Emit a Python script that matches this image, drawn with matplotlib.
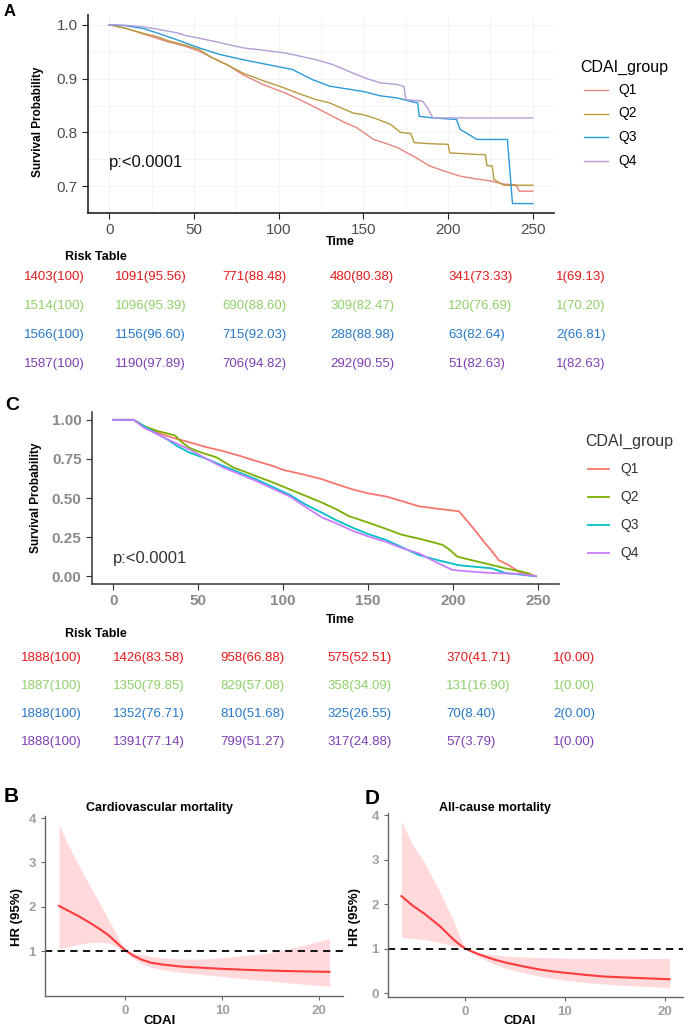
import matplotlib
matplotlib.use("Agg")
import matplotlib.pyplot as plt
from matplotlib.lines import Line2D
from matplotlib import font_manager as fm

names = {f.name for f in fm.fontManager.ttflist}
BASE = "Liberation Sans" if "Liberation Sans" in names else "DejaVu Sans"
NARROW = "Liberation Sans Narrow" if "Liberation Sans Narrow" in names else BASE
plt.rcParams['font.family'] = [BASE, 'DejaVu Sans']

# ---------------- data ----------------
groups = ["Q1", "Q2", "Q3", "Q4"]

# Panel A (Kaplan-Meier, cardiovascular)
A_Q1_t = [0, 10, 20, 28, 35, 45, 53, 60, 70, 79, 90, 104, 113, 122, 130, 138, 146, 156, 163, 170, 180, 189, 198, 207, 216, 225, 233, 240, 242, 250]
A_Q1_s = [1.0, 0.993, 0.983, 0.975, 0.968, 0.96, 0.951, 0.94, 0.925, 0.907, 0.89, 0.873, 0.86, 0.846, 0.833, 0.82, 0.809, 0.787, 0.78, 0.772, 0.755, 0.738, 0.728, 0.719, 0.714, 0.71, 0.704, 0.703, 0.691, 0.691]
A_Q2_t = [0, 10, 20, 28, 35, 45, 53, 60, 70, 79, 90, 103, 112, 122, 130, 144, 150, 158, 166, 172, 178, 180, 190, 200, 201, 218, 222, 223, 226, 227, 230, 233, 250]
A_Q2_s = [1.0, 0.993, 0.984, 0.978, 0.97, 0.962, 0.954, 0.94, 0.925, 0.91, 0.897, 0.883, 0.872, 0.861, 0.855, 0.836, 0.833, 0.825, 0.815, 0.80, 0.798, 0.781, 0.779, 0.778, 0.762, 0.759, 0.759, 0.738, 0.738, 0.713, 0.707, 0.702, 0.702]
A_Q3_t = [0, 10, 20, 28, 40, 53, 65, 79, 95, 108, 120, 130, 142, 150, 160, 170, 180, 182, 183, 191, 205, 207, 217, 235, 238, 250]
A_Q3_s = [1.0, 0.998, 0.993, 0.985, 0.972, 0.957, 0.945, 0.935, 0.925, 0.917, 0.898, 0.886, 0.88, 0.876, 0.868, 0.864, 0.856, 0.855, 0.83, 0.827, 0.824, 0.806, 0.787, 0.787, 0.668, 0.668]
A_Q4_t = [0, 10, 20, 28, 40, 45, 53, 65, 79, 90, 103, 115, 122, 132, 144, 152, 160, 170, 174, 175, 185, 188, 191, 250]
A_Q4_s = [1.0, 0.999, 0.996, 0.992, 0.985, 0.98, 0.975, 0.967, 0.957, 0.953, 0.948, 0.94, 0.935, 0.926, 0.91, 0.9, 0.892, 0.889, 0.885, 0.861, 0.858, 0.845, 0.827, 0.827]

# Panel C (Kaplan-Meier, all-cause)
C_Q1_t = [0, 12, 18, 25.6, 35, 45, 50, 55, 64.7, 75, 84, 94, 100, 113, 123, 131, 141, 150, 160.6, 170, 180, 192, 203.6, 209.5, 214, 219, 223, 227, 233, 239, 243, 246.6, 249]
C_Q1_s = [1.0, 1.0, 0.96, 0.92, 0.885, 0.856, 0.84, 0.825, 0.80, 0.768, 0.737, 0.705, 0.68, 0.648, 0.62, 0.59, 0.555, 0.53, 0.51, 0.48, 0.447, 0.43, 0.415, 0.34, 0.28, 0.21, 0.16, 0.103, 0.07, 0.028, 0.02, 0.006, 0.0]
C_Q2_t = [0, 12, 18, 25.6, 36.4, 40, 45, 52, 60.8, 70.6, 77, 84, 94, 104, 113, 123, 131, 139, 151, 160, 170, 182, 194, 198, 202.6, 210, 219, 231, 240, 244.7, 248]
C_Q2_s = [1.0, 1.0, 0.96, 0.93, 0.9, 0.86, 0.82, 0.79, 0.76, 0.695, 0.67, 0.64, 0.6, 0.555, 0.515, 0.47, 0.43, 0.383, 0.34, 0.305, 0.265, 0.235, 0.2, 0.17, 0.125, 0.105, 0.082, 0.05, 0.03, 0.017, 0.0]
C_Q3_t = [0, 12, 18, 25, 31.5, 38, 45, 55, 64.7, 75, 84, 94, 104, 113, 123, 131, 141, 150, 160.6, 170, 180, 192, 203.6, 213, 223, 231, 240, 248]
C_Q3_s = [1.0, 1.0, 0.96, 0.915, 0.877, 0.83, 0.79, 0.75, 0.705, 0.66, 0.62, 0.57, 0.52, 0.46, 0.405, 0.36, 0.31, 0.27, 0.232, 0.185, 0.135, 0.1, 0.07, 0.06, 0.05, 0.02, 0.01, 0.0]
C_Q4_t = [0, 12, 18, 25.6, 35, 45, 55, 64.7, 75, 84, 94, 104, 113, 123, 131, 141, 150, 160.6, 170, 180, 190, 199.7, 210, 223, 239, 249]
C_Q4_s = [1.0, 1.0, 0.95, 0.91, 0.86, 0.81, 0.75, 0.695, 0.65, 0.61, 0.56, 0.51, 0.445, 0.375, 0.34, 0.29, 0.255, 0.22, 0.18, 0.146, 0.09, 0.04, 0.03, 0.02, 0.015, 0.0]

# Risk tables
risk_A = [
    ["1403(100)", "1091(95.56)", "771(88.48)", "480(80.38)", "341(73.33)", "1(69.13)"],
    ["1514(100)", "1096(95.39)", "690(88.60)", "309(82.47)", "120(76.69)", "1(70.20)"],
    ["1566(100)", "1156(96.60)", "715(92.03)", "288(88.98)", "63(82.64)", "2(66.81)"],
    ["1587(100)", "1190(97.89)", "706(94.82)", "292(90.55)", "51(82.63)", "1(82.63)"],
]
risk_C = [
    ["1888(100)", "1426(83.58)", "958(66.88)", "575(52.51)", "370(41.71)", "1(0.00)"],
    ["1887(100)", "1350(79.85)", "829(57.08)", "358(34.09)", "131(16.90)", "1(0.00)"],
    ["1888(100)", "1352(76.71)", "810(51.68)", "325(26.55)", "70(8.40)", "2(0.00)"],
    ["1888(100)", "1391(77.14)", "799(51.27)", "317(24.88)", "57(3.79)", "1(0.00)"],
]

# Panel B (RCS, cardiovascular mortality)
B_x = [-6.85, -5.8, -4.85, -3.6, -2.46, -1.7, -1.09, -0.5, 0, 0.8, 1.64, 2.6, 3.69, 5.74, 7.8, 9.85, 12, 14.6, 17.5, 21.1]
B_hr = [2.02, 1.9, 1.79, 1.63, 1.47, 1.35, 1.23, 1.11, 1.02, 0.9, 0.81, 0.74, 0.70, 0.65, 0.625, 0.60, 0.58, 0.56, 0.545, 0.53]
B_hi = [3.85, 3.35, 2.95, 2.45, 2.0, 1.7, 1.45, 1.2, 1.02, 0.96, 0.92, 0.88, 0.85, 0.82, 0.82, 0.85, 0.89, 0.95, 1.08, 1.28]
B_lo = [1.05, 1.1, 1.15, 1.19, 1.2, 1.17, 1.12, 1.05, 1.0, 0.83, 0.72, 0.64, 0.58, 0.52, 0.47, 0.43, 0.38, 0.33, 0.27, 0.2]

# Panel D (RCS, all-cause mortality)
D_x = [-6.4, -5.3, -4.13, -3.3, -2.48, -1.8, -1.16, -0.5, 0, 0.7, 1.49, 2.8, 4.13, 5.8, 7.43, 9, 10.7, 12.4, 14, 17, 20.5]
D_hr = [2.18, 1.97, 1.79, 1.64, 1.49, 1.34, 1.2, 1.08, 1.0, 0.93, 0.86, 0.76, 0.68, 0.6, 0.53, 0.48, 0.44, 0.4, 0.37, 0.34, 0.31]
D_hi = [3.86, 3.35, 2.95, 2.6, 2.25, 1.92, 1.62, 1.25, 1.0, 0.94, 0.9, 0.86, 0.83, 0.81, 0.8, 0.79, 0.78, 0.78, 0.77, 0.77, 0.78]
D_lo = [1.25, 1.23, 1.2, 1.17, 1.13, 1.1, 1.06, 1.02, 1.0, 0.9, 0.8, 0.66, 0.55, 0.46, 0.38, 0.32, 0.27, 0.23, 0.2, 0.16, 0.12]

# ---------------- styles ----------------
W, H = 688, 1030
colA = ["#E8857E", "#B89A3E", "#2A9AD8", "#B69CD6"]
colC = ["#F8766D", "#7CAE00", "#00BFC4", "#C77CFF"]
colRisk = ["#E31A1C", "#8FD16A", "#2878C8", "#7E3FB5"]

def fx(px):
    return px / W

def fy(py):
    return 1 - py / H

def axrect(l, t, r, b):
    return [fx(l), fy(b), (r - l) / W, (b - t) / H]

fig = plt.figure(figsize=(W / 100, H / 100), dpi=100)

# ---------------- Panel A ----------------
axA = fig.add_axes(axrect(88, 15, 554, 213))
A_t = [A_Q1_t, A_Q2_t, A_Q3_t, A_Q4_t]
A_s = [A_Q1_s, A_Q2_s, A_Q3_s, A_Q4_s]
for t, s, c in zip(A_t, A_s, colA):
    axA.plot(t, s, color=c, lw=1.0)
axA.set_xlim(-12.5, 262.5)
axA.set_ylim(0.6505, 1.018)
axA.set_xticks([0, 50, 100, 150, 200, 250])
axA.set_yticks([0.7, 0.8, 0.9, 1.0])
axA.set_yticklabels(["0.7", "0.8", "0.9", "1.0"])
axA.set_xticks([25, 75, 125, 175, 225], minor=True)
axA.set_yticks([0.75, 0.85, 0.95], minor=True)
axA.grid(which="both", color="#f2f2f2", lw=0.6)
axA.set_axisbelow(True)
for sp in ["top", "right"]:
    axA.spines[sp].set_visible(False)
for sp in ["left", "bottom"]:
    axA.spines[sp].set_color("#222222")
    axA.spines[sp].set_linewidth(1.2)
axA.tick_params(which="major", labelsize=11, labelcolor="#4d4d4d", length=4, color="#222222")
axA.tick_params(which="minor", length=0)
axA.text(0, 0.744, "p:<0.0001", fontsize=12, color="#111111", va="center", ha="left")
fig.text(fx(38), fy(122), "Survival Probability", rotation=90, fontsize=8.5, fontweight="bold",
         ha="center", va="center")
fig.text(fx(340), fy(242), "Time", fontsize=9, fontweight="bold", ha="center", va="center")
fig.text(fx(10), fy(12), "A", fontsize=12, fontweight="bold", ha="center", va="center")

# legend A
fig.text(fx(580), fy(67), "CDAI_group", fontsize=11.5, ha="left", va="center")
for i, (g, c) in enumerate(zip(groups, colA)):
    yy = fy(90 + i * 23.5)
    fig.add_artist(Line2D([fx(584), fx(608)], [yy, yy], color=c, lw=1.0, transform=fig.transFigure))
    fig.text(fx(618), yy, g, fontsize=10, ha="left", va="center")

# risk table A
col_x_A = [24, 115, 222, 330, 448, 556]
fig.text(fx(65), fy(257), "Risk Table", fontsize=9, fontweight="bold", ha="left", va="center")
for r, row in enumerate(risk_A):
    for j, txt in enumerate(row):
        fig.text(fx(col_x_A[j]), fy(277 + r * 29), txt, fontsize=9.5, color=colRisk[r],
                 ha="left", va="center", family=[NARROW, BASE])

# ---------------- Panel C ----------------
axC = fig.add_axes(axrect(92, 412, 559, 584))
C_t = [C_Q1_t, C_Q2_t, C_Q3_t, C_Q4_t]
C_s = [C_Q1_s, C_Q2_s, C_Q3_s, C_Q4_s]
for t, s, c in zip(C_t, C_s, colC):
    axC.plot(t, s, color=c, lw=1.3)
axC.set_xlim(-12.5, 262.5)
axC.set_ylim(-0.05, 1.05)
axC.set_xticks([0, 50, 100, 150, 200, 250])
axC.set_yticks([0, 0.25, 0.5, 0.75, 1.0])
axC.set_yticklabels(["0.00", "0.25", "0.50", "0.75", "1.00"])
for sp in ["top", "right"]:
    axC.spines[sp].set_visible(False)
for sp in ["left", "bottom"]:
    axC.spines[sp].set_color("#333333")
    axC.spines[sp].set_linewidth(1.1)
axC.tick_params(labelsize=11, labelcolor="#8a8a8a", length=4, color="#333333")
for lab in axC.get_xticklabels() + axC.get_yticklabels():
    lab.set_fontweight("bold")
axC.text(0, 0.11, "p:<0.0001", fontsize=12, color="#333333", va="center", ha="left")
fig.text(fx(36), fy(498), "Survival Probability", rotation=90, fontsize=8.5, fontweight="bold",
         ha="center", va="center")
fig.text(fx(340), fy(620), "Time", fontsize=9, fontweight="bold", ha="center", va="center")
fig.text(fx(12), fy(405), "C", fontsize=14, fontweight="bold", ha="center", va="center")

fig.text(fx(585), fy(441), "CDAI_group", fontsize=11.5, ha="left", va="center", color="#333333")
for i, (g, c) in enumerate(zip(groups, colC)):
    yy = fy(469 + i * 28)
    fig.add_artist(Line2D([fx(588), fx(609)], [yy, yy], color=c, lw=1.3, transform=fig.transFigure))
    fig.text(fx(620), yy, g, fontsize=10, ha="left", va="center", color="#333333")

col_x_C = [21, 113, 220, 327, 446, 553]
fig.text(fx(65), fy(634), "Risk Table", fontsize=9, fontweight="bold", ha="left", va="center")
for r, row in enumerate(risk_C):
    for j, txt in enumerate(row):
        fig.text(fx(col_x_C[j]), fy(658 + r * 28), txt, fontsize=9.5, color=colRisk[r],
                 ha="left", va="center", family=[NARROW, BASE])

# ---------------- Panels B and D ----------------
def rcs_panel(rect, x, hr, lo, hi, ylim, yticks, xlim, title, title_x, label, label_xy, ylab_x, xlab_x):
    ax = fig.add_axes(rect)
    ax.fill_between(x, lo, hi, color="#FFD9DC", lw=0)
    ax.plot(x, hr, color="#FF3B3B", lw=1.5)
    ax.axhline(1, color="black", lw=1.3, ls=(0, (4, 3)))
    ax.set_xlim(*xlim)
    ax.set_ylim(*ylim)
    ax.set_xticks([0, 10, 20])
    ax.set_yticks(yticks)
    for sp in ["top", "right"]:
        ax.spines[sp].set_visible(False)
    for sp in ["left", "bottom"]:
        ax.spines[sp].set_color("#666666")
        ax.spines[sp].set_linewidth(1.0)
    ax.tick_params(labelsize=9.5, labelcolor="#a0a0a0", length=3, color="#666666")
    for lab in ax.get_xticklabels() + ax.get_yticklabels():
        lab.set_fontweight("bold")
        lab.set_family([NARROW, BASE])
    fig.text(fx(title_x), fy(808), title, fontsize=9, fontweight="bold", ha="center", va="center")
    fig.text(fx(label_xy[0]), fy(label_xy[1]), label, fontsize=15, fontweight="bold",
             ha="center", va="center")
    fig.text(fx(ylab_x), fy(917), "HR (95%)", rotation=90, fontsize=9.5, fontweight="bold",
             ha="center", va="center")
    fig.text(fx(xlab_x), fy(1021), "CDAI", fontsize=9.5, fontweight="bold", ha="center", va="center")
    return ax

axB = rcs_panel(axrect(45, 816, 343, 996), B_x, B_hr, B_lo, B_hi, (-0.015, 4.05), [1, 2, 3, 4],
                (-8.3, 22.5), "Cardiovascular mortality", 160, "B", (11, 797), 17, 160)
axD = rcs_panel(axrect(388, 813, 683, 997), D_x, D_hr, D_lo, D_hi, (-0.09, 4.05), [0, 1, 2, 3, 4],
                (-7.75, 21.85), "All-cause mortality", 495, "D", (372, 798), 355, 520)

fig.savefig("out.png", dpi=100)
